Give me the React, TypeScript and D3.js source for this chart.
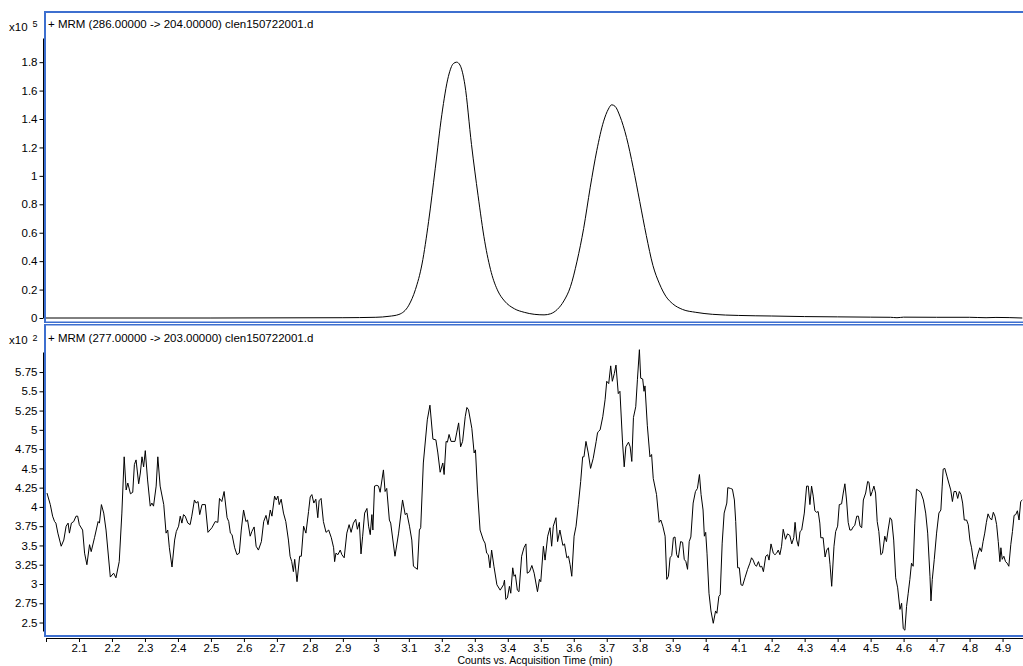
import React, { useRef, useEffect } from "react";
import * as d3 from "d3";

// acquisition time (min) ticks shared by both panels
const timeTicks = [2.0, 2.1, 2.2, 2.3, 2.4, 2.5, 2.6, 2.7, 2.8, 2.9, 3.0, 3.1, 3.2, 3.3, 3.4, 3.5, 3.6, 3.7, 3.8, 3.9, 4.0, 4.1, 4.2, 4.3, 4.4, 4.5, 4.6, 4.7, 4.8, 4.9];
const timeTickLabels = ["", "2.1", "2.2", "2.3", "2.4", "2.5", "2.6", "2.7", "2.8", "2.9", "3", "3.1", "3.2", "3.3", "3.4", "3.5", "3.6", "3.7", "3.8", "3.9", "4", "4.1", "4.2", "4.3", "4.4", "4.5", "4.6", "4.7", "4.8", "4.9"];

const topTicks = [0, 0.2, 0.4, 0.6, 0.8, 1.0, 1.2, 1.4, 1.6, 1.8];
const topTickLabels = ["0", "0.2", "0.4", "0.6", "0.8", "1", "1.2", "1.4", "1.6", "1.8"];
const bottomTicks = [2.5, 2.75, 3.0, 3.25, 3.5, 3.75, 4.0, 4.25, 4.5, 4.75, 5.0, 5.25, 5.5, 5.75];
const bottomTickLabels = ["2.5", "2.75", "3", "3.25", "3.5", "3.75", "4", "4.25", "4.5", "4.75", "5", "5.25", "5.5", "5.75"];

const topTitle = "+ MRM (286.00000 -> 204.00000) clen150722001.d";
const bottomTitle = "+ MRM (277.00000 -> 203.00000) clen150722001.d";
const xTitle = "Counts vs. Acquisition Time (min)";

// MRM 286 -> 204, counts x10^5
const topTime = [2.0, 2.5, 2.9, 3.0, 3.04, 3.07, 3.1, 3.12, 3.14, 3.16, 3.18, 3.2, 3.22, 3.235, 3.245, 3.255, 3.27, 3.29, 3.31, 3.33, 3.35, 3.37, 3.39, 3.42, 3.45, 3.48, 3.51, 3.53, 3.55, 3.57, 3.59, 3.61, 3.63, 3.65, 3.67, 3.69, 3.705, 3.715, 3.725, 3.74, 3.76, 3.78, 3.8, 3.82, 3.84, 3.86, 3.88, 3.9, 3.93, 3.97, 4.02, 4.1, 4.2, 4.3, 4.4, 4.5, 4.56, 4.58, 4.6, 4.7, 4.8, 4.85, 4.88, 4.96];
const topCounts = [0.0, 0.0, 0.002, 0.005, 0.012, 0.025, 0.09, 0.2, 0.38, 0.68, 1.05, 1.43, 1.7, 1.79, 1.8, 1.78, 1.64, 1.22, 0.86, 0.54, 0.32, 0.19, 0.12, 0.065, 0.04, 0.026, 0.022, 0.03, 0.06, 0.12, 0.22, 0.4, 0.63, 0.92, 1.18, 1.38, 1.47, 1.5, 1.49, 1.42, 1.27, 1.06, 0.82, 0.58, 0.37, 0.24, 0.15, 0.1, 0.06, 0.04, 0.026, 0.018, 0.014, 0.01, 0.008, 0.006, 0.005, 0.002, 0.006, 0.005, 0.005, 0.002, 0.004, 0.0];

// MRM 277 -> 203, counts x10^2
const bottomTime = [
  2.003, 2.013, 2.02, 2.026, 2.03, 2.036, 2.046, 2.054, 2.061, 2.067, 2.071, 2.077, 2.084, 2.091, 2.096, 2.101, 2.111, 2.117, 2.124, 2.132,
  2.137, 2.147, 2.158, 2.162, 2.168, 2.175, 2.182, 2.195, 2.205, 2.212, 2.222, 2.23, 2.237, 2.243, 2.248, 2.256, 2.263, 2.268, 2.273, 2.281,
  2.286, 2.291, 2.296, 2.301, 2.308, 2.316, 2.321, 2.326, 2.334, 2.339, 2.346, 2.357, 2.364, 2.369, 2.374, 2.382, 2.39, 2.395, 2.402, 2.407,
  2.412, 2.417, 2.422, 2.43, 2.437, 2.442, 2.45, 2.455, 2.461, 2.466, 2.473, 2.483, 2.491, 2.503, 2.513, 2.521, 2.526, 2.533, 2.54, 2.549,
  2.554, 2.559, 2.564, 2.572, 2.579, 2.586, 2.592, 2.599, 2.606, 2.611, 2.619, 2.624, 2.631, 2.637, 2.644, 2.653, 2.66, 2.667, 2.673, 2.68,
  2.685, 2.693, 2.698, 2.703, 2.707, 2.713, 2.72, 2.727, 2.735, 2.74, 2.745, 2.75, 2.754, 2.761, 2.769, 2.774, 2.781, 2.788, 2.796, 2.801,
  2.806, 2.812, 2.818, 2.824, 2.828, 2.834, 2.841, 2.849, 2.857, 2.865, 2.872, 2.875, 2.879, 2.885, 2.892, 2.897, 2.904, 2.912, 2.919, 2.925,
  2.932, 2.939, 2.944, 2.95, 2.955, 2.96, 2.966, 2.973, 2.978, 2.983, 2.988, 2.991, 2.996,
  3.003, 3.008, 3.013, 3.023, 3.028, 3.033, 3.041, 3.045, 3.058, 3.069, 3.081, 3.089, 3.094, 3.102, 3.109, 3.114, 3.126, 3.132, 3.136, 3.144,
  3.156, 3.164, 3.173, 3.182, 3.188, 3.195, 3.203, 3.207, 3.213, 3.217, 3.222, 3.228, 3.24, 3.245, 3.251, 3.257, 3.263, 3.271, 3.276, 3.281,
  3.291, 3.298, 3.302, 3.308, 3.316, 3.326, 3.331, 3.336, 3.341, 3.346, 3.351, 3.358, 3.367, 3.377, 3.387, 3.39, 3.394, 3.399, 3.405, 3.409,
  3.415, 3.419, 3.423, 3.429, 3.434, 3.442, 3.449, 3.455, 3.459, 3.466, 3.473, 3.48, 3.49, 3.496, 3.5, 3.508, 3.513, 3.521, 3.528, 3.533,
  3.538, 3.546, 3.551, 3.558, 3.567, 3.572, 3.579, 3.584, 3.589, 3.594, 3.601, 3.607, 3.614, 3.621, 3.627, 3.631, 3.637, 3.644, 3.651, 3.659,
  3.668, 3.672, 3.675, 3.68, 3.688, 3.695, 3.7, 3.706, 3.712, 3.717, 3.723, 3.728, 3.735, 3.74, 3.748, 3.753, 3.758, 3.766, 3.771, 3.776,
  3.781, 3.788, 3.793, 3.799, 3.803, 3.809, 3.813, 3.816, 3.823, 3.831, 3.836, 3.841, 3.851, 3.859, 3.864, 3.87, 3.877, 3.882, 3.887, 3.892,
  3.897, 3.902, 3.907, 3.912, 3.917, 3.924, 3.93, 3.935, 3.94, 3.945, 3.95, 3.955, 3.962, 3.969, 3.975, 3.981,
  3.986, 3.992, 3.996, 4.0, 4.004, 4.01, 4.016, 4.023, 4.03, 4.034, 4.04, 4.044, 4.05, 4.056, 4.064, 4.067, 4.075, 4.081, 4.087, 4.091,
  4.097, 4.102, 4.107, 4.112, 4.119, 4.127, 4.134, 4.139, 4.144, 4.149, 4.154, 4.16, 4.165, 4.17, 4.175, 4.182, 4.188, 4.192, 4.198, 4.205,
  4.21, 4.215, 4.22, 4.225, 4.23, 4.235, 4.242, 4.248, 4.255, 4.261, 4.267, 4.271, 4.276, 4.281, 4.286, 4.291, 4.299, 4.306, 4.311, 4.316,
  4.321, 4.326, 4.331, 4.336, 4.341, 4.346, 4.349, 4.356, 4.362, 4.367, 4.372, 4.377, 4.382, 4.389, 4.394, 4.4, 4.405, 4.412, 4.417, 4.422,
  4.427, 4.432, 4.437, 4.442, 4.447, 4.452, 4.458, 4.463, 4.468, 4.473, 4.478, 4.485, 4.491, 4.495, 4.5, 4.505, 4.51, 4.515, 4.52, 4.525,
  4.531, 4.536, 4.543, 4.548, 4.553, 4.559, 4.564, 4.57, 4.576, 4.582, 4.589, 4.594, 4.599, 4.604, 4.609, 4.614, 4.619, 4.624, 4.629, 4.634,
  4.639, 4.646, 4.652, 4.66, 4.667, 4.673, 4.68, 4.683, 4.687, 4.693, 4.7, 4.707, 4.713, 4.717, 4.72, 4.725, 4.732, 4.737, 4.743, 4.748,
  4.753, 4.759, 4.764, 4.769, 4.774, 4.779, 4.784, 4.791, 4.796, 4.801, 4.806, 4.811, 4.816, 4.821, 4.826, 4.831, 4.836, 4.841, 4.846, 4.851,
  4.856, 4.861, 4.867, 4.872, 4.877, 4.882, 4.887, 4.892, 4.895, 4.899, 4.904, 4.909, 4.914, 4.919, 4.925, 4.93, 4.935, 4.94, 4.945, 4.95,
  4.955, 4.96,
];
const bottomCounts = [
  4.18, 4.03, 3.88, 3.81, 3.79, 3.66, 3.49, 3.57, 3.75, 3.79, 3.66, 3.79, 3.81, 3.88, 3.88, 3.77, 3.7, 3.4, 3.25, 3.51,
  3.42, 3.6, 3.81, 3.79, 4.03, 3.92, 3.7, 3.09, 3.14, 3.08, 3.29, 3.92, 4.65, 4.22, 4.31, 4.17, 4.19, 4.55, 4.61, 4.3,
  4.44, 4.65, 4.52, 4.73, 4.35, 4.01, 4.05, 4.01, 4.27, 4.65, 4.27, 4.03, 3.66, 3.7, 3.47, 3.22, 3.57, 3.68, 3.75, 3.88,
  3.79, 3.9, 3.88, 3.79, 3.77, 3.88, 4.09, 4.05, 4.07, 3.9, 4.03, 4.03, 3.67, 3.73, 3.81, 3.8, 4.11, 4.07, 4.2, 3.86,
  3.81, 3.66, 3.64, 3.47, 3.38, 3.4, 3.7, 3.96, 3.81, 3.83, 3.62, 3.68, 3.74, 3.49, 3.44, 3.55, 3.81, 3.89, 3.77, 3.96,
  3.88, 4.14, 4.09, 4.14, 4.03, 4.1, 3.92, 3.81, 3.57, 3.36, 3.29, 3.16, 3.32, 3.03, 3.36, 3.36, 3.75, 3.66, 3.94, 4.13,
  4.16, 4.05, 4.1, 3.86, 4.08, 4.11, 3.81, 3.67, 3.7, 3.6, 3.47, 3.29, 3.4, 3.38, 3.44, 3.38, 3.34, 3.66, 3.77, 3.67,
  3.79, 3.84, 3.71, 3.8, 3.39, 3.62, 3.92, 3.98, 3.75, 3.64, 3.9, 3.7, 4.27,
  4.28, 4.27, 4.19, 4.48, 4.2, 4.24, 3.83, 3.79, 3.36, 3.66, 4.09, 3.9, 3.92, 3.75, 3.57, 3.23, 3.19, 3.7, 3.73, 4.57,
  5.13, 5.32, 4.88, 4.87, 4.7, 4.45, 4.57, 4.42, 4.85, 4.84, 4.94, 4.85, 4.85, 4.96, 5.09, 4.78, 4.85, 5.17, 5.29, 5.26,
  5.02, 4.7, 4.74, 4.22, 3.7, 3.57, 3.53, 3.4, 3.38, 3.21, 3.44, 3.23, 2.99, 2.92, 2.99, 3.05, 2.8, 2.82, 2.97, 2.88,
  3.21, 3.1, 3.12, 2.92, 2.9, 3.36, 3.47, 3.52, 3.14, 3.16, 3.24, 3.14, 2.9, 3.06, 3.03, 3.49, 3.31, 3.62, 3.73, 3.49,
  3.75, 3.86, 3.55, 3.7, 3.5, 3.52, 3.34, 3.36, 3.25, 3.1, 3.62, 3.75, 4.03, 4.33, 4.65, 4.65, 4.85, 4.7, 4.5, 4.63,
  4.85, 4.96, 4.98, 5.0, 5.17, 5.39, 5.63, 5.6, 5.83, 5.63, 5.73, 5.84, 5.47, 5.5, 4.83, 4.52, 4.78, 4.84, 4.78, 4.59,
  5.16, 5.3, 5.65, 6.04, 5.67, 5.66, 5.5, 5.57, 5.06, 4.65, 4.68, 4.37, 4.16, 3.8, 3.83, 3.75, 3.62, 3.06, 3.1, 3.34,
  3.37, 3.6, 3.61, 3.38, 3.34, 3.55, 3.54, 3.32, 3.29, 3.19, 3.55, 3.61, 4.05, 4.2, 4.24, 4.42,
  4.16, 3.96, 3.62, 3.67, 3.4, 2.88, 2.65, 2.49, 2.65, 2.62, 2.84, 2.86, 3.53, 3.92, 4.05, 4.25, 4.24, 4.23, 4.09, 3.81,
  3.21, 3.21, 2.99, 2.98, 3.08, 3.19, 3.27, 3.34, 3.31, 3.25, 3.23, 3.29, 3.22, 3.23, 3.16, 3.36, 3.38, 3.31, 3.52, 3.4,
  3.38, 3.4, 3.44, 3.38, 3.49, 3.71, 3.58, 3.65, 3.63, 3.52, 3.6, 3.8, 3.57, 3.49, 3.68, 3.7, 3.92, 4.27, 4.27, 4.03,
  4.27, 4.14, 3.95, 3.93, 3.94, 3.79, 3.6, 3.6, 3.35, 3.44, 3.47, 3.25, 2.97, 3.49, 3.68, 3.75, 4.03, 4.04, 4.18, 4.3,
  4.09, 3.8, 3.7, 3.7, 3.74, 3.76, 3.88, 3.88, 3.75, 3.73, 4.09, 4.18, 4.33, 4.32, 4.14, 4.2, 4.27, 4.18, 3.81, 3.68,
  3.38, 3.4, 3.62, 3.55, 3.7, 3.86, 3.83, 3.57, 3.08, 2.95, 2.67, 2.75, 2.42, 2.4, 2.71, 2.88, 3.06, 3.27, 3.23, 3.79,
  4.23, 4.21, 4.19, 4.09, 3.92, 3.66, 3.1, 2.78, 3.06, 3.32, 3.66, 3.92, 3.96, 4.27, 4.49, 4.5, 4.39, 4.31, 4.22, 4.07,
  4.2, 4.2, 4.11, 4.2, 4.16, 4.05, 3.83, 3.83, 3.77, 3.57, 3.47, 3.32, 3.19, 3.32, 3.4, 3.47, 3.42, 3.55, 3.66, 3.8,
  3.91, 3.86, 3.83, 3.93, 3.88, 3.77, 3.55, 3.29, 3.47, 3.32, 3.36, 3.29, 3.27, 3.23, 3.51, 3.68, 3.89, 3.9, 3.95, 3.83,
  4.07, 4.09,
];

const FONT = "'Liberation Sans', Arial, sans-serif";
const BLUE = "#3d6fcf";

const App = () => {
  const svgRef = useRef(null);

  useEffect(() => {
    const svg = d3.select(svgRef.current);
    svg.selectAll("*").remove();

    const x = d3.scaleLinear().domain([2.0, 4.962]).range([46, 1023]);
    const yTop = d3.scaleLinear().domain([0, 1.97]).range([318, 38]);
    const yBot = d3.scaleLinear().domain([2.39, 6.01]).range([631, 352]);

    // blue panel frames
    const frame = svg.append("g").attr("stroke", BLUE).attr("fill", "none");
    frame.append("line").attr("x1", 44).attr("x2", 1030).attr("y1", 12).attr("y2", 12).attr("stroke-width", 2);
    frame.append("line").attr("x1", 45).attr("x2", 45).attr("y1", 11).attr("y2", 323).attr("stroke-width", 2);
    frame.append("line").attr("x1", 44).attr("x2", 1030).attr("y1", 322.3).attr("y2", 322.3).attr("stroke-width", 1.4);
    frame.append("line").attr("x1", 44).attr("x2", 1030).attr("y1", 324.8).attr("y2", 324.8).attr("stroke-width", 1.4);
    frame.append("line").attr("x1", 45).attr("x2", 45).attr("y1", 324).attr("y2", 637).attr("stroke-width", 2);
    frame.append("line").attr("x1", 44).attr("x2", 1030).attr("y1", 636).attr("y2", 636).attr("stroke-width", 2);

    const styleAxis = (g) => {
      g.attr("font-family", FONT).attr("font-size", 11.5);
      g.selectAll("text").attr("fill", "#000");
      g.selectAll("line").attr("stroke", "#000");
      g.select(".domain").attr("stroke", "#000");
    };

    // top y axis
    svg.append("g")
      .attr("transform", "translate(43,0)")
      .call(d3.axisLeft(yTop).tickValues(topTicks).tickFormat((d, i) => topTickLabels[i]).tickSize(3.5).tickSizeOuter(0).tickPadding(2))
      .call(styleAxis);

    // bottom y axis
    svg.append("g")
      .attr("transform", "translate(43,0)")
      .call(d3.axisLeft(yBot).tickValues(bottomTicks).tickFormat((d, i) => bottomTickLabels[i]).tickSize(3.5).tickSizeOuter(0).tickPadding(2))
      .call(styleAxis);

    // x axis
    svg.append("g")
      .attr("transform", "translate(0,638)")
      .call(d3.axisBottom(x).tickValues(timeTicks).tickFormat((d, i) => timeTickLabels[i]).tickSize(4).tickSizeOuter(0).tickPadding(2))
      .call(styleAxis);

    // traces
    const topLine = d3.line()
      .x((d, i) => x(topTime[i]))
      .y((d) => yTop(d))
      .curve(d3.curveMonotoneX);
    svg.append("path")
      .attr("d", topLine(topCounts))
      .attr("fill", "none")
      .attr("stroke", "#000")
      .attr("stroke-width", 1);

    const botLine = d3.line()
      .x((d, i) => x(bottomTime[i]))
      .y((d) => yBot(d));
    svg.append("path")
      .attr("d", botLine(bottomCounts))
      .attr("fill", "none")
      .attr("stroke", "#000")
      .attr("stroke-width", 1);

    // titles and exponent labels
    const text = svg.append("g").attr("font-family", FONT).attr("fill", "#000");
    text.append("text").attr("x", 48).attr("y", 27.5).attr("font-size", 11.5).text(topTitle);
    text.append("text").attr("x", 48).attr("y", 341.5).attr("font-size", 11.5).text(bottomTitle);
    text.append("text").attr("x", 9).attr("y", 30.5).attr("font-size", 11.5).text("x10");
    text.append("text").attr("x", 32.5).attr("y", 26.5).attr("font-size", 9).text("5");
    text.append("text").attr("x", 9).attr("y", 344).attr("font-size", 11.5).text("x10");
    text.append("text").attr("x", 32.5).attr("y", 340.5).attr("font-size", 9).text("2");
    text.append("text").attr("x", 535).attr("y", 664).attr("font-size", 10.5).attr("text-anchor", "middle").text(xTitle);
  }, []);

  return (
    <svg
      ref={svgRef}
      width={1023}
      height={666}
      style={{ position: "absolute", left: 0, top: 0, background: "#fff" }}
    />
  );
};

export default App;
